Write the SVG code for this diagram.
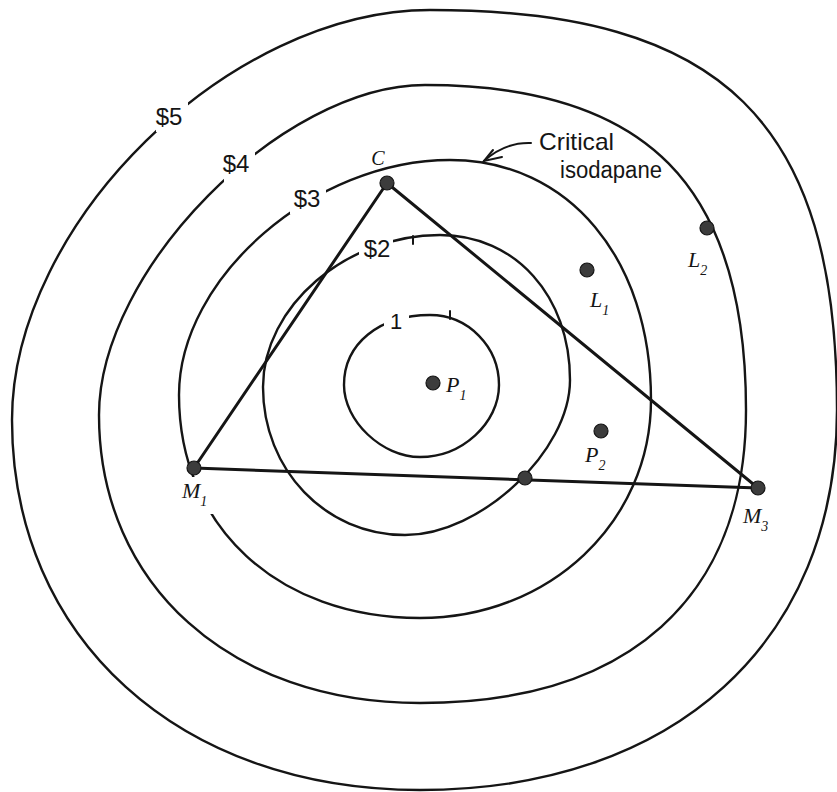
<svg xmlns="http://www.w3.org/2000/svg" width="837" height="792" viewBox="0 0 837 792">
<defs>
<style>
.iso{fill:none;stroke:#151515;stroke-width:2.4}
.edge{fill:none;stroke:#151515;stroke-width:3;stroke-linecap:round}
.thin{fill:none;stroke:#151515;stroke-width:2;stroke-linecap:round}
.dot{fill:#3c3c3c;stroke:#151515;stroke-width:1.2}
.lbl{font-family:"Liberation Sans",Arial,sans-serif;font-size:24px;fill:#151515}
.it{font-family:"Liberation Serif","Times New Roman",serif;font-style:italic;font-size:22px;fill:#151515}
.sub{font-size:14px}
</style>
<mask id="gaps" maskUnits="userSpaceOnUse" x="0" y="0" width="837" height="792">
<rect width="837" height="792" fill="#fff"/>
<rect x="156" y="100" width="32" height="32" fill="#000"/>
<rect x="224" y="150" width="31" height="33" fill="#000"/>
<rect x="290" y="185" width="36" height="29" fill="#000"/>
<rect x="359" y="236" width="34" height="28" fill="#000"/>
<rect x="384" y="306" width="25" height="28" fill="#000"/>
<rect x="182" y="477" width="32" height="37" fill="#000"/>
</mask>
</defs>
<rect width="837" height="792" fill="#fff"/>

<g id="isodapanes" mask="url(#gaps)">
<path id="iso5" class="iso" d="M12,420 C12,223.2 229.4,10 430,10 C723,10 837,122 837,410 C837,641.8 674.4,790 420,790 C179.3,790 12,638.3 12,420 Z"/>
<path id="iso4" class="iso" d="M99,415 C99,269.8 281.6,85 425,85 C646.5,85 746,185.7 746,410 C746,597.5 628.6,703 420,703 C230.6,703 99,584.9 99,415 Z"/>
<path id="iso3" class="iso" d="M179,395 C179,277.5 314.5,160 450,160 C568.6,160 651,258.4 651,400 C651,522.1 549.4,618 420,618 C277.8,618 179,526.6 179,395 Z"/>
<path id="iso2" class="iso" d="M263,387 C263,306.4 346.2,235 440,235 C515.4,235 570,295.9 570,380 C570,451.3 480.9,535 405,535 C325.5,535 263,469.9 263,387 Z"/>
<path id="iso1" class="iso" d="M344,385 C344,343.7 379.3,315 430,315 C468,315 499,346.5 499,385 C499,423.2 461.9,457 420,457 C382,457 344,421 344,385 Z"/>
<line class="thin" x1="413" y1="236" x2="413" y2="244"/>
<line class="thin" x1="450" y1="311" x2="450" y2="319"/>
</g>

<g id="iso-labels">
<text class="lbl" x="169" y="125" text-anchor="middle">$5</text>
<text class="lbl" x="236" y="172" text-anchor="middle">$4</text>
<text class="lbl" x="307" y="207" text-anchor="middle">$3</text>
<text class="lbl" x="377" y="257" text-anchor="middle">$2</text>
<text class="lbl" x="396" y="329" text-anchor="middle" style="font-size:22px">1</text>
<text class="lbl" x="539" y="150" textLength="75" lengthAdjust="spacingAndGlyphs">Critical</text>
<text class="lbl" x="560" y="178" textLength="102" lengthAdjust="spacingAndGlyphs" style="font-size:23px">isodapane</text>
</g>

<g id="connectors">
<line class="edge" x1="387" y1="183" x2="194" y2="468"/>
<line class="edge" x1="387" y1="183" x2="758" y2="488"/>
<line class="edge" x1="194" y1="468" x2="758" y2="488"/>
<path class="thin" d="M531,143 Q505,142 484,161"/>
<path class="thin" d="M493,150 L484,161 L502,157"/>
</g>

<g id="node-C"><circle class="dot" cx="387" cy="183" r="7"/><text class="it" x="378" y="165" text-anchor="middle" style="font-size:20px">C</text></g>
<g id="node-M1"><circle class="dot" cx="194" cy="468" r="7"/><text class="it" x="182" y="498">M<tspan class="sub" dy="8">1</tspan></text></g>
<g id="node-M3"><circle class="dot" cx="758" cy="488" r="7"/><text class="it" x="743" y="523">M<tspan class="sub" dy="8">3</tspan></text></g>
<g id="node-X"><circle class="dot" cx="525" cy="478" r="7"/></g>
<g id="node-P1"><circle class="dot" cx="433" cy="383" r="7"/><text class="it" x="446" y="392">P<tspan class="sub" dy="8">1</tspan></text></g>
<g id="node-P2"><circle class="dot" cx="601" cy="431" r="7"/><text class="it" x="585" y="462">P<tspan class="sub" dy="8">2</tspan></text></g>
<g id="node-L1"><circle class="dot" cx="587" cy="270" r="7"/><text class="it" x="590" y="307">L<tspan class="sub" dy="8">1</tspan></text></g>
<g id="node-L2"><circle class="dot" cx="707" cy="228" r="7"/><text class="it" x="688" y="267">L<tspan class="sub" dy="8">2</tspan></text></g>
</svg>
